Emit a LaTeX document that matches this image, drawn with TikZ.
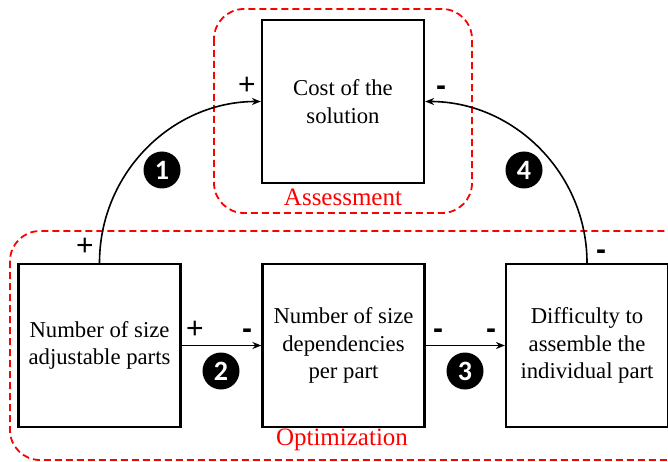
\documentclass[tikz,border=0pt]{standalone}
\usepackage{fontspec}
\setmainfont{Liberation Serif}
\newfontfamily\tmsfont{Liberation Serif}
\newfontfamily\sgnfont{Liberation Sans}
\newfontfamily\bdgfont{Carlito}
\usetikzlibrary{arrows.meta}
\begin{document}
\begin{tikzpicture}[x=1pt,y=-1pt,
  blockbox/.style={draw,line width=2.2pt,minimum width=162pt,minimum height=163pt,align=center,inner sep=0pt,
     font=\tmsfont\fontsize{22.7}{27.5}\selectfont},
  groupbox/.style={draw=red,line width=1.8pt,dash pattern=on 7pt off 4pt,rounded corners=30pt},
  grouplabel/.style={text=red,font=\tmsfont\fontsize{25}{27}\selectfont,inner sep=0pt},
  link/.style={line width=1.6pt,-{Stealth[length=9pt,width=7pt]}},
  badge/.style={circle,fill=black,minimum size=37pt,inner sep=0pt,text=white,font=\bdgfont\bfseries\fontsize{28}{28}\selectfont},
  sgn/.style={inner sep=0pt,font=\sgnfont\fontsize{30}{30}\selectfont},
  msgn/.style={inner sep=0pt,anchor=base,font=\sgnfont\bfseries\fontsize{30}{30}\selectfont}]
\useasboundingbox (0,0) rectangle (668,462);
\clip (0,0) rectangle (668,462);
% groups
\draw[groupbox] (214,9) rectangle (472,213);
\draw[groupbox] (10,231) rectangle (698,460);
\node[grouplabel] (ass) at (343,197) {Assessment};
\node[grouplabel] (opt) at (342,440) {Optimization};
% blocks
\node[blockbox] (T) at (343,101.5) {Cost of the\\solution};
\node[blockbox] (L) at (99.5,345.5) {Number of size\\adjustable parts};
\node[blockbox] (M) at (343.5,345.5) {Number of size\\dependencies\\per part};
\node[blockbox] (R) at (587,345.5) {Difficulty to\\assemble the\\individual part};
% links
\draw[link] (L.north) to[out=90,in=180] (T.west);
\draw[link] (R.north) to[out=90,in=0] (T.east);
\draw[link] (L.east) -- (M.west);
\draw[link] (M.east) -- (R.west);
% badges
\node[badge] (b1) at (162,170) {1};
\node[badge] (b4) at (524,170) {4};
\node[badge] (b2) at (221,371) {2};
\node[badge] (b3) at (465,371) {3};
% signs
\node[sgn] (s1) at (247,86) {+};
\node[msgn] (s2) at (441,96) {-};
\node[sgn] (s3) at (85,247) {+};
\node[msgn] (s4) at (601,259) {-};
\node[sgn] (s5) at (195,330) {+};
\node[msgn] (s6) at (247,338) {-};
\node[msgn] (s7) at (438,338) {-};
\node[msgn] (s8) at (491,338) {-};
\end{tikzpicture}
\end{document}
